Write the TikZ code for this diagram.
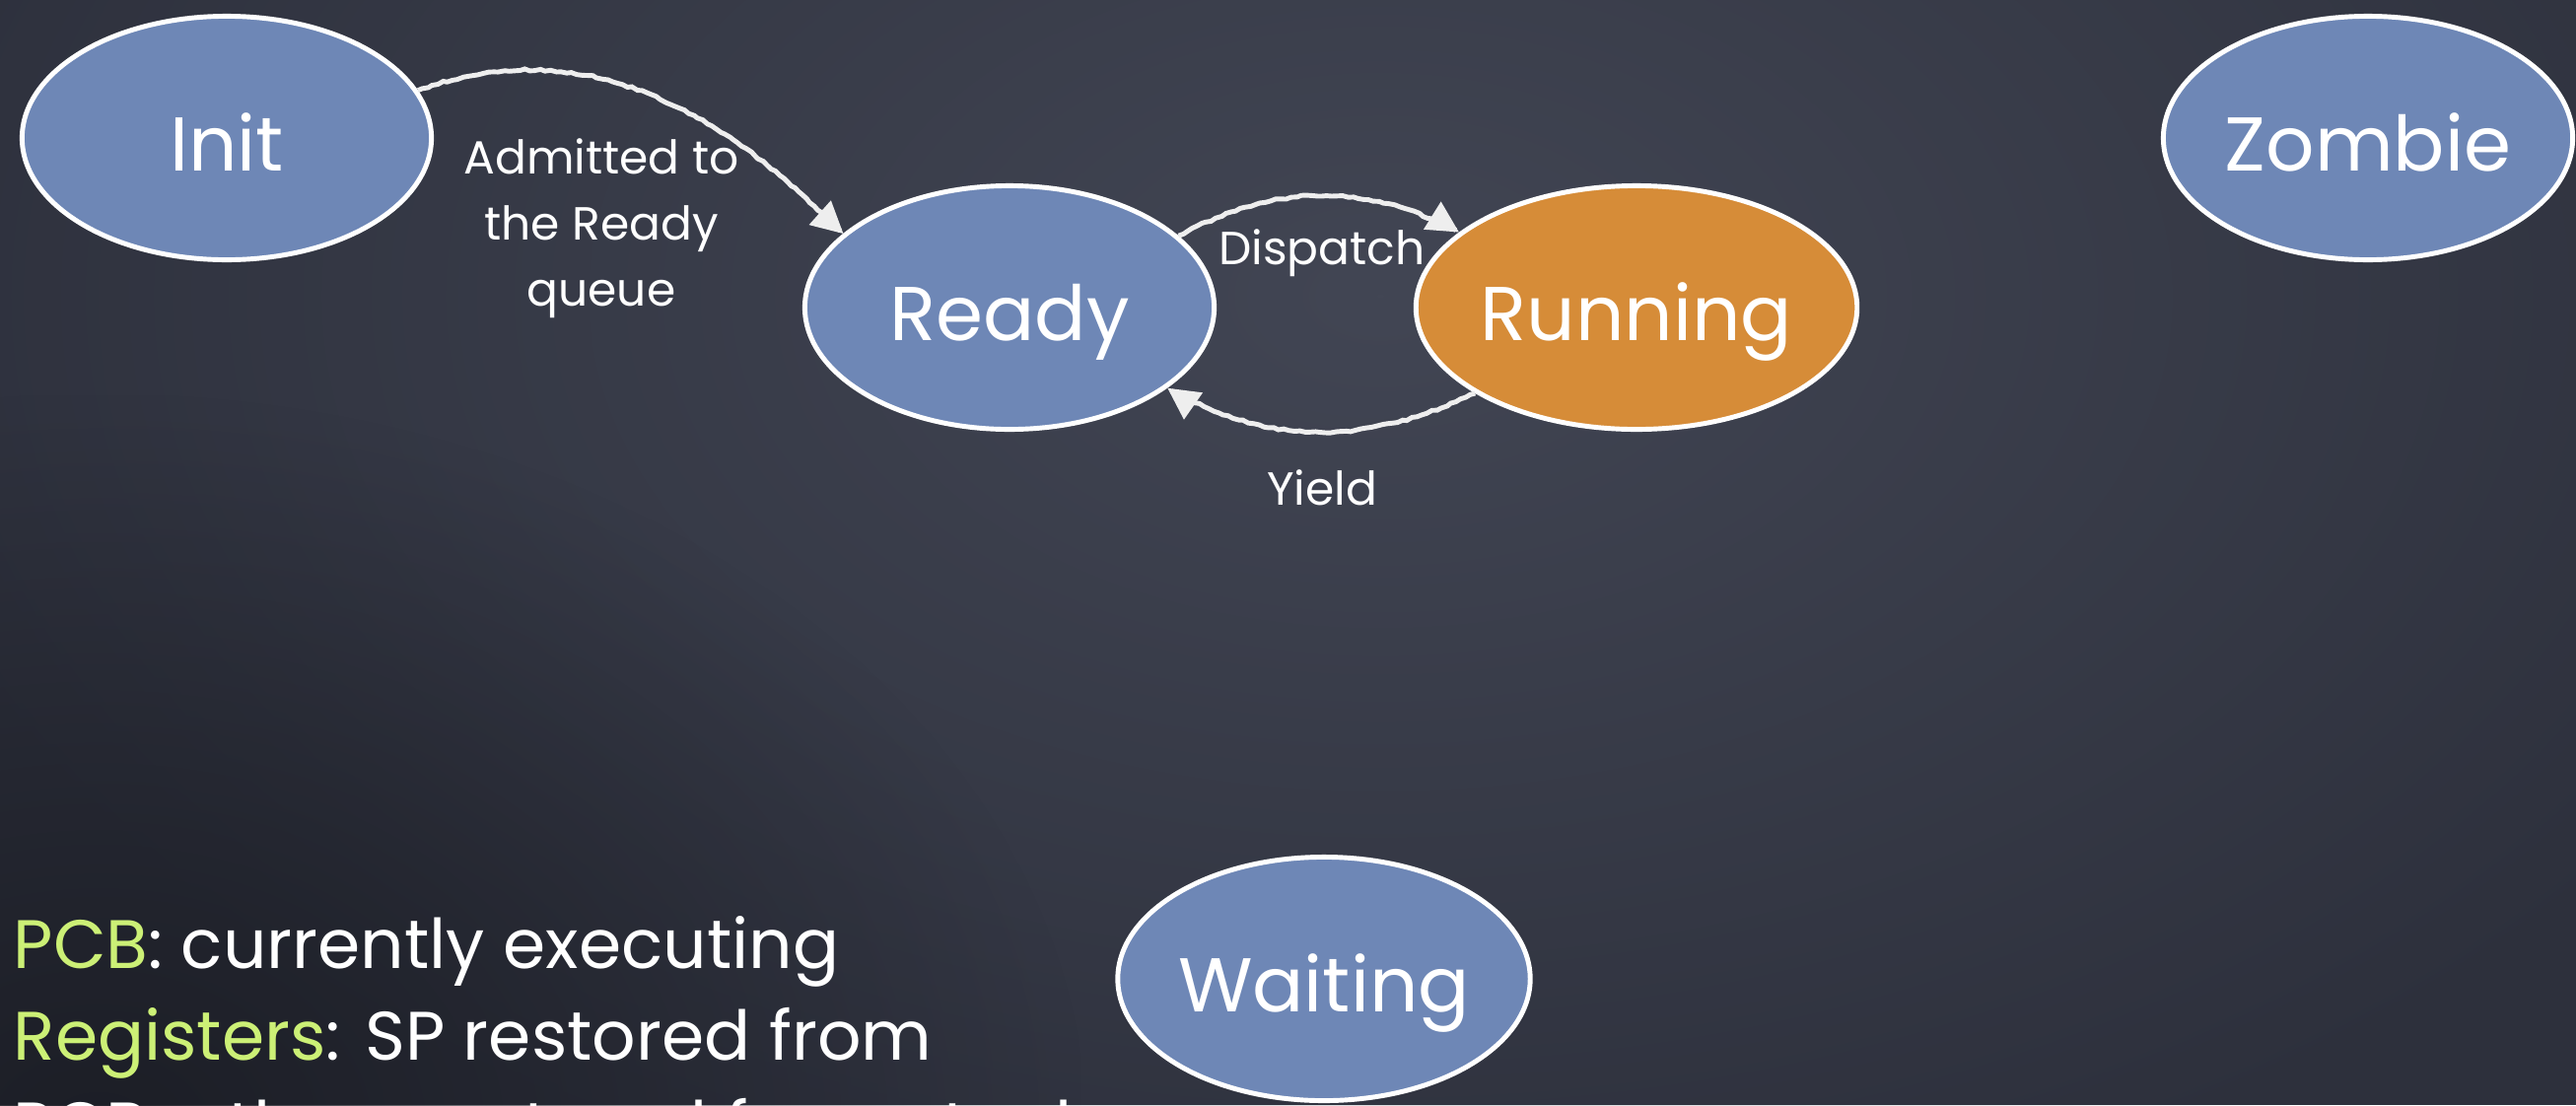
\documentclass[tikz,border=0pt]{standalone}
\usepackage{fontspec}
\setmainfont{Poppins}
\usetikzlibrary{shapes.geometric,arrows.meta,decorations.pathmorphing,fadings}

\definecolor{board}{RGB}{45,48,60}
\definecolor{boardlight}{RGB}{66,70,84}
\definecolor{boarddark}{RGB}{28,30,38}
\definecolor{stateblue}{RGB}{110,135,182}
\definecolor{stateorange}{RGB}{214,140,56}
\definecolor{chalk}{RGB}{238,238,238}
\definecolor{chalkgreen}{RGB}{204,240,118}

% soft round patch that fades out towards its rim
\tikzfading[name=softpatch, inner color=transparent!0, outer color=transparent!100]

\begin{document}
\begin{tikzpicture}[x=0.01cm,y=0.01cm,
  state/.style={ellipse, draw=white, line width=1.4pt, fill=stateblue,
    minimum width=4.15cm, minimum height=2.47cm, inner sep=0pt,
    text=white, font=\fontsize{22}{26}\selectfont,
    text height=0.66cm, text depth=0pt},
  active/.style={state, fill=stateorange},
  chalkline/.style={draw=chalk, line width=1.4pt,
    decorate, decoration={random steps, segment length=1.5pt, amplitude=0.3pt},
    -{Triangle[length=0.32cm,width=0.32cm]}},
  edgetext/.style={text=white, font=\fontsize{13.4}{19}\selectfont, align=center, inner sep=0pt},
  notetext/.style={text=white, font=\fontsize{19.8}{26.5}\selectfont, anchor=base west, inner sep=0pt}
]
% chalkboard: even slate, lighter near the top middle, darker in the lower left
\useasboundingbox (0,0) rectangle (2613,-1121);
\fill[board] (0,0) rectangle (2613,-1121);
\fill[boardlight, path fading=softpatch] (-200,700) rectangle (3000,-1300);
\fill[boarddark, path fading=softpatch] (-900,-400) rectangle (1100,-1900);

% process states
\node[state]  (init)    at (230,-140)  {Init};
\node[state]  (ready)   at (1024,-312) {Ready};
\node[active] (running) at (1660,-312) {Running};
\node[state]  (zombie)  at (2402,-140) {Zombie};
\node[state]  (waiting) at (1343,-993) {Waiting};

% transitions
\draw[chalkline] (init.14) to[out=20,in=135] (ready.156);
\draw[chalkline] (ready.23) to[out=28,in=152] (running.157);
\draw[chalkline] (running.208) to[out=205,in=330] (ready.333);

% transition labels (a multi-line node sits on its last line)
\node[edgetext, anchor=base] (admit) at (610,-310) {Admitted to\\the Ready\\queue};
\node[edgetext, anchor=base] (dispatch) at (1341,-268) {Dispatch};
\node[edgetext, anchor=base] (yield) at (1341,-512) {Yield};

% notes on the running state
\node[notetext] (note1) at (13,-982)  {{\color{chalkgreen}PCB}: currently executing};
\node[notetext] (note2) at (13,-1075) {{\color{chalkgreen}Registers}: SP restored from};
\node[notetext] (note3) at (13,-1167) {PCB; others restored from stack};
\end{tikzpicture}
\end{document}
